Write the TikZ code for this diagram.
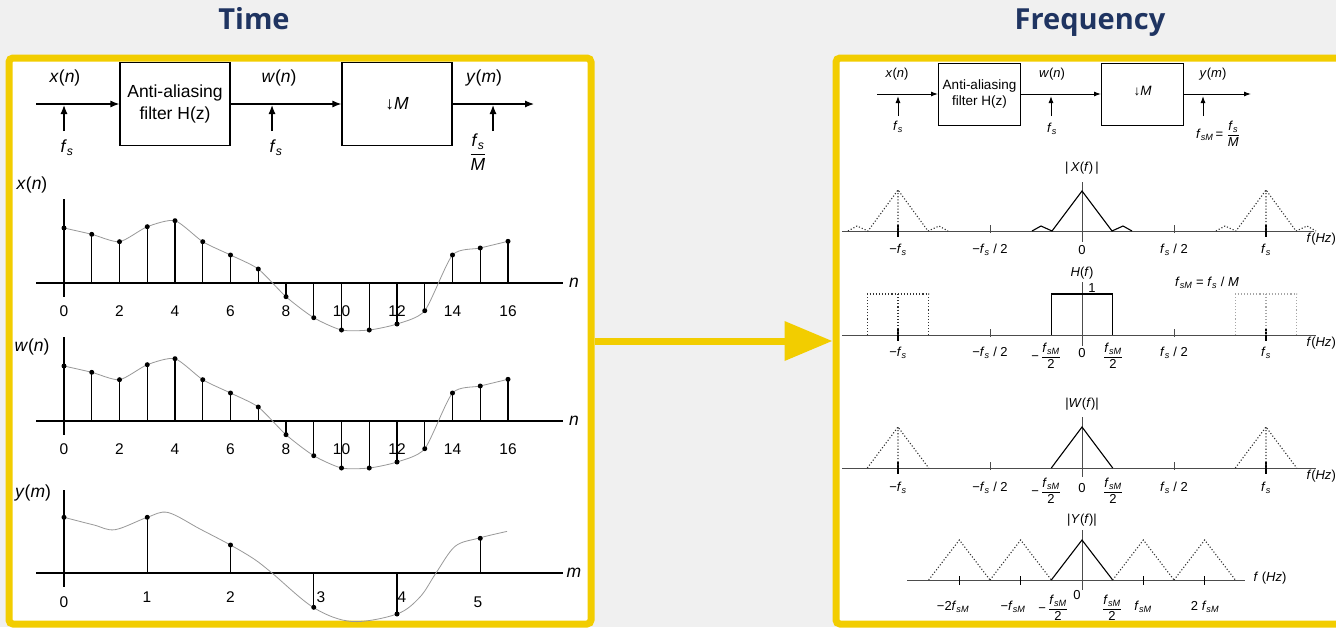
\documentclass[tikz,border=0pt]{standalone}
\usepackage{amsmath}
\usepackage{fontspec}
\setmainfont{Liberation Sans}
\newfontfamily\titlefont{Open Sans}
\usetikzlibrary{arrows.meta,positioning,calc}
\definecolor{fondo}{HTML}{F0F0F0}
\definecolor{amarillo}{HTML}{F2CD00}
\definecolor{marino}{HTML}{1F3461}
\newcommand{\fmu}{\textit{f}\textsubscript{\textit{s}}}
\newcommand{\fmuM}{\textit{f}\textsubscript{\textit{sM}}}
\newcommand{\fraccion}[2]{$\genfrac{}{}{0.6pt}{0}{\mbox{#1}}{\mbox{#2}}$}

\begin{document}
\begin{tikzpicture}[x=1pt,y=-1pt,
    panel/.style={draw=amarillo,line width=7pt,fill=white,rounded corners=4pt},
    titulo/.style={font=\titlefont\bfseries\fontsize{29}{32}\selectfont,
                   text=marino,anchor=base},
    bloqueT/.style={draw,line width=1.2pt,minimum width=110pt,minimum height=83pt,
                    align=center,font=\fontsize{17.5}{21.5}\selectfont},
    bloqueF/.style={draw,line width=1pt,minimum width=82pt,minimum height=62pt,
                    align=center,font=\fontsize{13.5}{16}\selectfont},
    etiqT/.style={font=\fontsize{17.5}{20}\selectfont},
    numT/.style={font=\fontsize{15.5}{18}\selectfont},
    etiqF/.style={font=\fontsize{13}{14}\selectfont},
    flechaT/.style={line width=1.2pt,-{Latex[length=9pt,width=7pt]}},
    flechaF/.style={line width=1pt,-{Latex[length=7pt,width=5pt]}},
    eje/.style={line width=1.2pt},
    tallo/.style={line width=1.3pt},
    punto/.style={circle,fill,inner sep=0pt,minimum size=5pt},
    curva/.style={draw=black!40,line width=0.8pt},
    ejeF/.style={line width=0.9pt,black!70},
    marca/.style={line width=1.4pt},
    espectro/.style={line width=1.1pt},
    replica/.style={dotted,line width=1.1pt,black!80}]
  \useasboundingbox (0,0) rectangle (1336,627);
  \fill[fondo] (0,0) rectangle (1336,627);
  \clip (0,0) rectangle (1336,627);

  \node[titulo] (tTiempo) at (254,29.3) {Time};
  \node[titulo] (tFrec) at (1090,29.3) {Frequency};
  \node[panel,minimum width=582pt,minimum height=566pt] (panelT) at (300,341) {};
  \node[panel,minimum width=530pt,minimum height=566pt] (panelF) at (1101,341) {};
  \draw[amarillo,line width=7pt,-{Triangle[length=48pt,width=38pt]}]
    (panelT.east) -- (panelF.west);

  % dominio del tiempo
  \node[bloqueT] (filtroT) at (175,104) {Anti-aliasing\\filter H(z)};
  \node[bloqueT] (diezT) at (397,104) {↓\textit{M}};
  \coordinate (entT) at (36,104);
  \coordinate (salT) at (534,104);
  \draw[flechaT] (entT) -- (filtroT);
  \draw[flechaT] (filtroT) -- (diezT);
  \draw[flechaT] (diezT) -- (salT);
  \foreach \px/\nom in {64/a,272/b,493/c}{
    \coordinate (pie\nom) at (\px,131);
    \coordinate (toca\nom) at (\px,105);
    \draw[flechaT] (pie\nom) -- (toca\nom);
  }
  \node[etiqT] (xT) at (65,78) {\textit{x}(\textit{n})};
  \node[etiqT] (wT) at (279,78) {\textit{w}(\textit{n})};
  \node[etiqT] (yT) at (484,78) {\textit{y}(\textit{m})};
  \node[etiqT] (fsA) at (67,148) {\fmu};
  \node[etiqT] (fsB) at (276,148) {\fmu};
  \node[etiqT] (fsC) at (478,152) {\fraccion{\fmu}{\textit{M}}};

  \foreach \ejey/\senal/\ety in {283/x/185,421/w/347}{
    \begin{scope}[shift={(64,\ejey)}]
      \draw[eje] (-28,0) -- (499,0);
      \draw[eje] (0,-84) -- (0,14);
      \draw[curva] plot[smooth,tension=0.4] coordinates {(0,-55) (27.75,-48.7)
        (55.5,-41.3) (83.25,-56.3) (111,-62.3) (138.75,-41.3) (166.5,-28)
        (194.25,-14) (222,13.7) (249.75,34.7) (277.5,47) (305.25,47) (333,41)
        (360.75,27.7) (388.5,-28) (416.25,-35) (444,-41.7)};
      \foreach \k in {0,2,...,16}
        \node[numT] (num\senal\k) at (27.75*\k,28) {\k};
      \foreach \v [count=\k from 0] in {-55,-48.7,-41.3,-56.3,-62.3,-41.3,-28,-14,
          13.7,34.7,47,47,41,27.7,-28,-35,-41.7}
        \draw[tallo] (27.75*\k,0) -- (27.75*\k,\v) node[punto] (p\senal\k) {};
      \node[etiqT] (eje\senal) at (510,0) {\textit{n}};
    \end{scope}
    \node[etiqT] (nom\senal) at (32,\ety) {\textit{\senal}(\textit{n})};
  }

  \begin{scope}[shift={(64,573)}]
    \draw[eje] (-28,0) -- (499,0);
    \draw[eje] (0,-83) -- (0,14);
    \draw[curva] plot[smooth,tension=0.55] coordinates {(0,-55.7) (30,-48)
      (51,-43.3) (83.25,-55.7) (104,-60.5) (136,-44) (166.5,-28) (190,-14)
      (208,0) (249.75,34.7) (288,48.5) (333,41) (356,24) (372,0) (391,-26.6)
      (414,-34.7) (443,-41.6)};
    \foreach \v [count=\m from 0] in {-55.7,-55.7,-28,34.3,41,-34.7}
      \draw[tallo] (83.25*\m,0) -- (83.25*\m,\v) node[punto] (py\m) {};
    \foreach \m/\lx/\ly in {0/0/29,1/83/24,2/166.5/24,3/257/24,4/338/24,5/414/29}
      \node[numT] (numy\m) at (\lx,\ly) {\m};
    \node[etiqT] (ejey) at (510,0) {\textit{m}};
  \end{scope}
  \node[etiqT] (nomy) at (33,493) {\textit{y}(\textit{m})};

  % dominio de la frecuencia
  \node[bloqueF] (filtroF) at (979.5,94) {Anti-aliasing\\filter H(z)};
  \node[bloqueF] (diezF) at (1142.5,94) {\raisebox{6pt}{↓\textit{M}}};
  \coordinate (entF) at (877,94);
  \coordinate (salF) at (1251,94);
  \draw[flechaF] (entF) -- (filtroF);
  \draw[flechaF] (filtroF) -- (diezF);
  \draw[flechaF] (diezF) -- (salF);
  \foreach \px/\nom in {898/a,1051/b,1203/c}{
    \coordinate (pieF\nom) at (\px,116);
    \coordinate (tocaF\nom) at (\px,96);
    \draw[flechaF] (pieF\nom) -- (tocaF\nom);
  }
  \node[etiqF] (xF) at (897,74) {\textit{x}(\textit{n})};
  \node[etiqF] (wF) at (1052,74) {\textit{w}(\textit{n})};
  \node[etiqF] (yF) at (1213,74) {\textit{y}(\textit{m})};
  \node[etiqF] (fsFa) at (898,127) {\fmu};
  \node[etiqF] (fsFb) at (1052,129) {\fmu};
  \node[etiqF] (fsFc) at (1218,134) {\fmuM\,= \fraccion{\fmu}{\textit{M}}};

  \begin{scope}[shift={(1082,231)}]
    \draw[ejeF] (-240,0) -- (232,0);
    \draw[ejeF] (0,-49) -- (0,11);
    \foreach \t in {-184,184} \draw[marca] (\t,-6) -- (\t,6);
    \foreach \t in {-92,92} \draw[ejeF] (\t,-6) -- (\t,2);
    \draw[espectro] (-50,0) -- (-41,-5) -- (-30,0) -- (0,-40) -- (30,0)
      -- (41,-5) -- (50,0);
    \foreach \t in {-184,184}
      \draw[replica,shift={(\t,0)}] (-50,0) -- (-41,-5) -- (-30,0) -- (0,-41)
        -- (30,0) -- (41,-5) -- (50,0) (0,-41) -- (0,0);
    \node[etiqF] (absX) at (0,-63) {|\,\textit{X}(\textit{f})\,|};
    \node[etiqF] (xa) at (-184,19) {−\fmu};
    \node[etiqF] (xb) at (-92,19) {−\fmu\ / 2};
    \node[etiqF] (xc) at (0,19) {0};
    \node[etiqF] (xd) at (92,19) {\fmu\ / 2};
    \node[etiqF] (xe) at (184,19) {\fmu};
    \node[etiqF,anchor=west] (hzX) at (221,8) {\textit{f}(\textit{Hz})};
  \end{scope}

  \begin{scope}[shift={(1082,335)}]
    \draw[ejeF] (-240,0) -- (234,0);
    \draw[ejeF] (0,-53) -- (0,11);
    \foreach \t in {-184,184} \draw[marca] (\t,-6) -- (\t,6);
    \foreach \t in {-92,92} \draw[ejeF] (\t,-6) -- (\t,2);
    \draw[espectro] (-30.7,0) -- (-30.7,-41) -- (30.7,-41) -- (30.7,0);
    \draw[replica,shift={(-184,0)}] (-30.7,0) -- (-30.7,-41) -- (30.7,-41)
      -- (30.7,0) (0,-41) -- (0,0);
    \draw[replica,black!35,shift={(184,0)}] (-30.7,0) -- (-30.7,-41)
      -- (30.7,-41) -- (30.7,0) (0,-41) -- (0,0);
    \node[etiqF] (absH) at (0,-62) {\textit{H}(\textit{f})};
    \node[etiqF] (uno) at (10,-47) {1};
    \node[etiqF] (relH) at (125,-52) {\fmuM\ = \fmu\ / \textit{M}};
    \node[etiqF] (ha) at (-184,18) {−\fmu};
    \node[etiqF] (hb) at (-92,18) {−\fmu\ / 2};
    \node[etiqF] (hc) at (-31,21) {\llap{−\,}\fraccion{\fmuM}{2}};
    \node[etiqF] (hd) at (0,18) {0};
    \node[etiqF] (he) at (31,21) {\fraccion{\fmuM}{2}};
    \node[etiqF] (hf) at (92,18) {\fmu\ / 2};
    \node[etiqF] (hg) at (184,18) {\fmu};
    \node[etiqF,anchor=west] (hzH) at (221,8) {\textit{f}(\textit{Hz})};
  \end{scope}

  \begin{scope}[shift={(1082,468)}]
    \draw[ejeF] (-240,0) -- (234,0);
    \draw[ejeF] (0,-51) -- (0,9);
    \foreach \t in {-184,184} \draw[marca] (\t,-6) -- (\t,6);
    \foreach \t in {-92,92} \draw[ejeF] (\t,-6) -- (\t,2);
    \draw[espectro] (-30.7,0) -- (0,-41) -- (30.7,0);
    \foreach \t in {-184,184}
      \draw[replica,shift={(\t,0)}] (-30.7,0) -- (0,-41) -- (30.7,0)
        (0,-41) -- (0,0);
    \node[etiqF] (absW) at (0,-64) {|\textit{W}(\textit{f})|};
    \node[etiqF] (wa) at (-184,20) {−\fmu};
    \node[etiqF] (wb) at (-92,20) {−\fmu\ / 2};
    \node[etiqF] (wc) at (-31,23) {\llap{−\,}\fraccion{\fmuM}{2}};
    \node[etiqF] (wd) at (0,20) {0};
    \node[etiqF] (we) at (31,23) {\fraccion{\fmuM}{2}};
    \node[etiqF] (wf) at (92,20) {\fmu\ / 2};
    \node[etiqF] (wg) at (184,20) {\fmu};
    \node[etiqF,anchor=west] (hzW) at (221,8) {\textit{f}(\textit{Hz})};
  \end{scope}

  \begin{scope}[shift={(1082,580)}]
    \draw[ejeF] (-175,0) -- (163,0);
    \draw[ejeF] (0,-50) -- (0,10);
    \foreach \t in {-122.67,-61.33,61.33,122.67} \draw[marca] (\t,-4) -- (\t,5);
    \draw[espectro] (-30.7,0) -- (0,-40) -- (30.7,0);
    \foreach \t in {-122.67,-61.33,61.33,122.67}
      \draw[replica,shift={(\t,0)}] (-30.7,0) -- (0,-40) -- (30.7,0);
    \node[etiqF] (absY) at (0,-60) {|\textit{Y}(\textit{f})|};
    \node[etiqF] (ya) at (-129,27) {−2\fmuM};
    \node[etiqF] (yb) at (-69,27) {−\fmuM};
    \node[etiqF] (yc) at (-24,28) {\llap{−\,}\fraccion{\fmuM}{2}};
    \node[etiqF] (yd) at (-5,15) {0};
    \node[etiqF] (ye) at (30,28) {\fraccion{\fmuM}{2}};
    \node[etiqF] (yf) at (61,27) {\fmuM};
    \node[etiqF] (yg) at (123,27) {2 \fmuM};
    \node[etiqF,anchor=west] (hzY) at (168,-2) {\textit{f} (\textit{Hz})};
  \end{scope}
\end{tikzpicture}
\end{document}
